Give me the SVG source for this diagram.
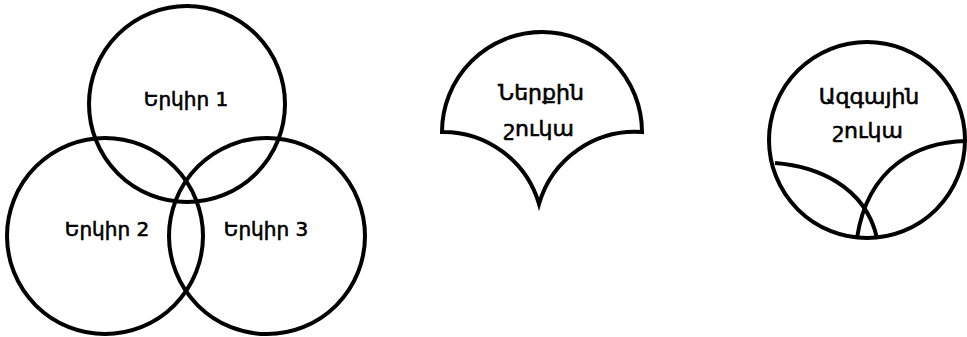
<svg xmlns="http://www.w3.org/2000/svg" width="967" height="337" viewBox="0 0 967 337">
<style>
.s{fill:none;stroke:#000;stroke-width:4}
.t{font-family:"DejaVu Sans","Liberation Sans",sans-serif;font-size:20px;fill:#000;stroke:#000;stroke-width:0.6;text-anchor:middle}
.m{font-size:22px}
</style>
<rect width="967" height="337" fill="#fff"/>
<g id="country1"><circle class="s" cx="187" cy="104" r="98"/><text class="t" x="186" y="106">Երկիր 1</text></g>
<g id="country2"><circle class="s" cx="105" cy="236" r="98"/><text class="t" x="107" y="236">Երկիր 2</text></g>
<g id="country3"><circle class="s" cx="267" cy="236" r="98"/><text class="t" x="266" y="236">Երկիր 3</text></g>
<g id="domestic-market">
<path class="s" stroke-linejoin="miter" d="M442,132 A100,100 0 0 1 539,204 A100,100 0 0 1 642,132 A100,100 0 0 0 442,132 Z"/>
<text class="t m" x="541" y="100">Ներքին</text>
<text class="t m" x="539" y="136">շուկա</text>
</g>
<g id="national-market">
<circle class="s" cx="867" cy="140" r="98"/>
<path class="s" d="M775,163 C815,166 865,185 877,238"/>
<path class="s" d="M966,141 C920,142 868,165 857,238"/>
<text class="t m" x="869" y="104">Ազգային</text>
<text class="t m" x="868" y="138">շուկա</text>
</g>
<g id="connectors"/>
</svg>
